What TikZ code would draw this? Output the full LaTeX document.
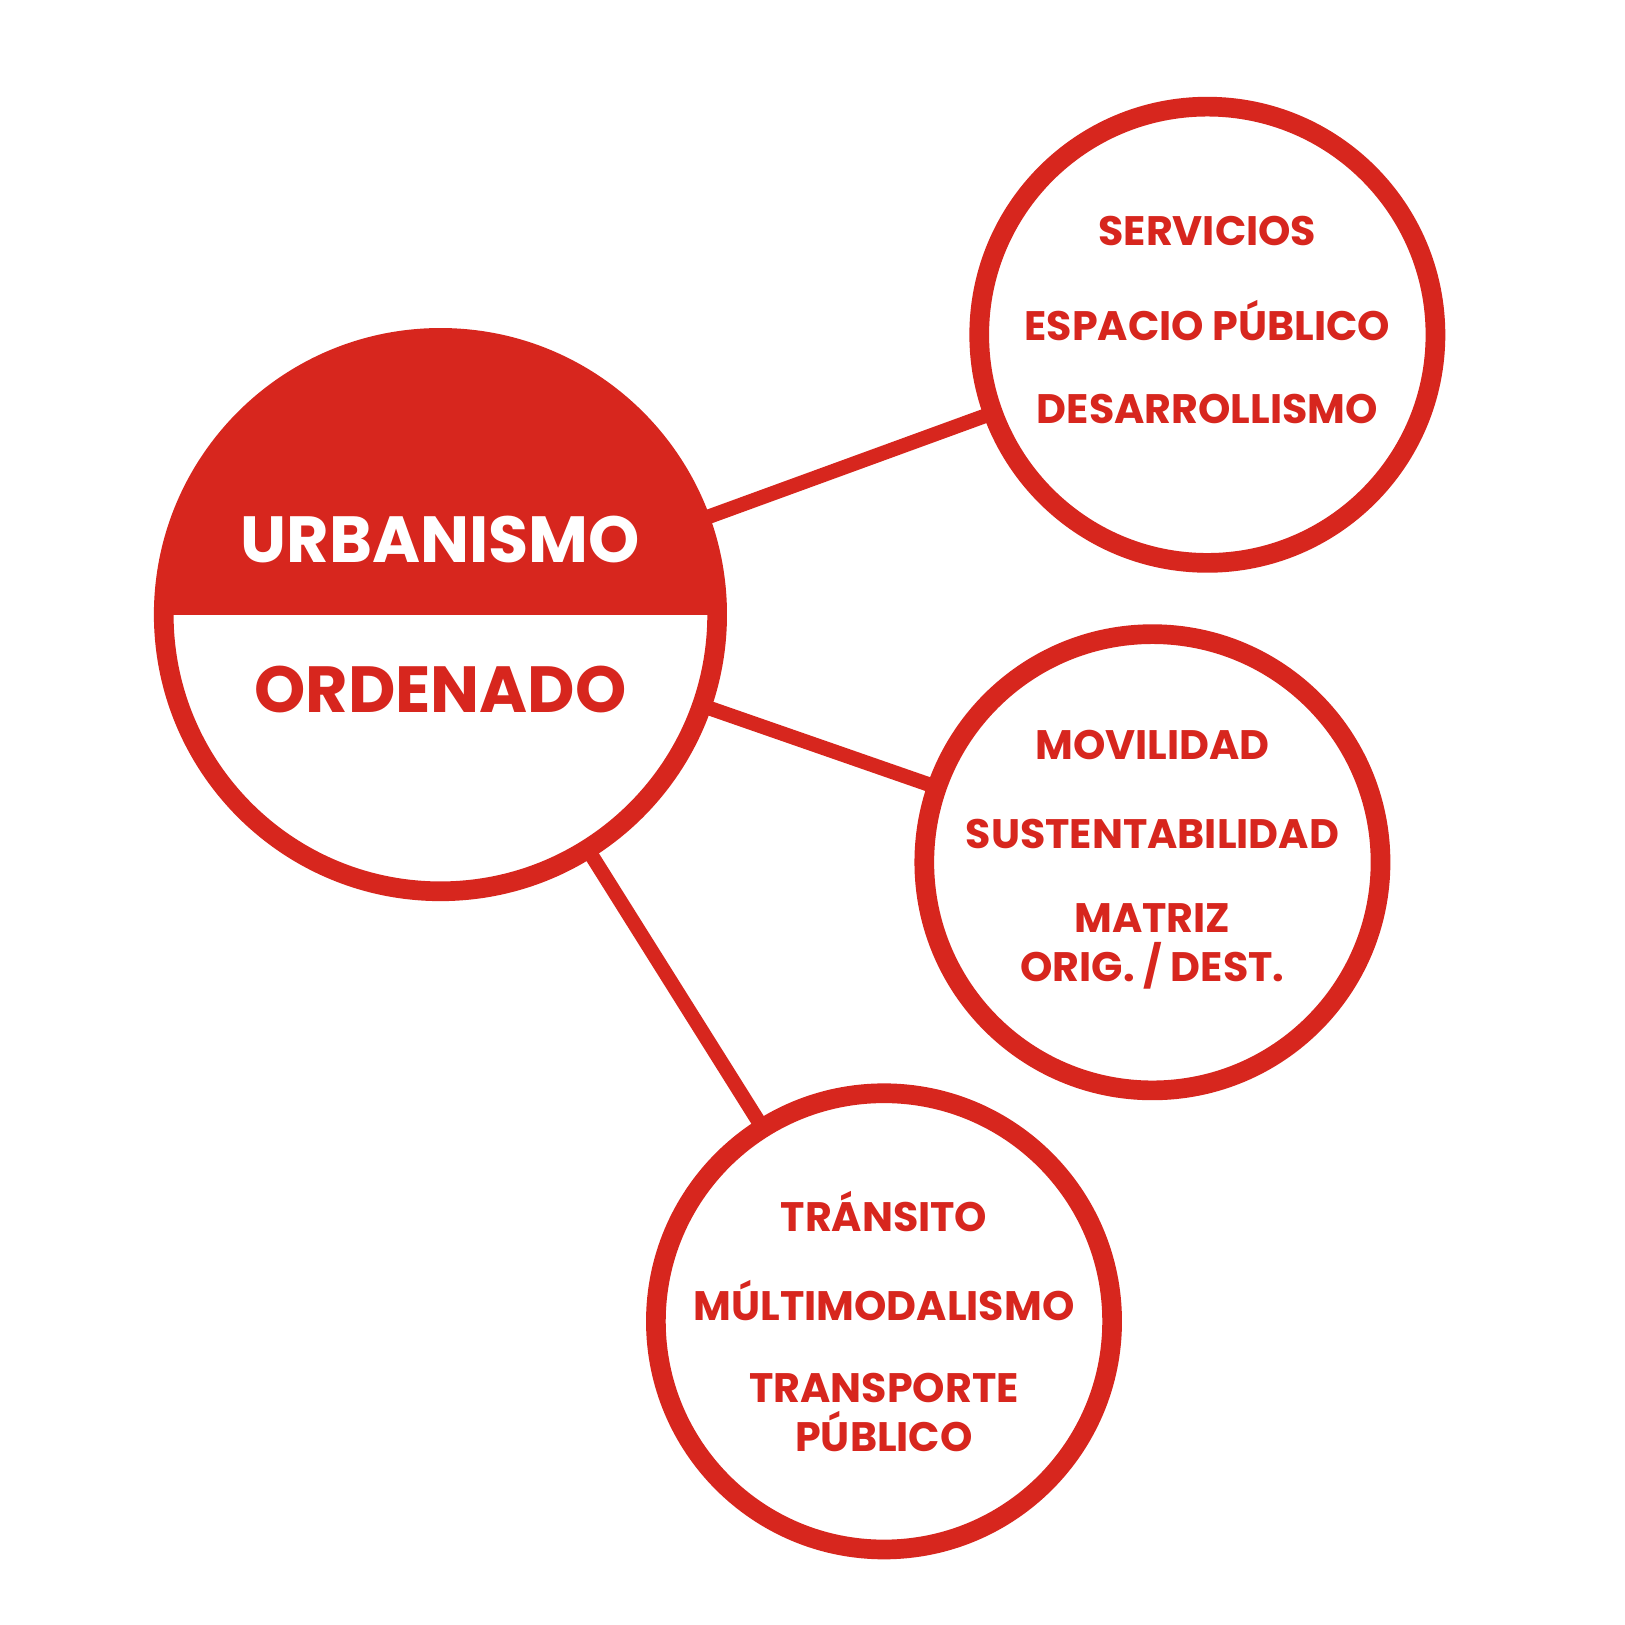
\documentclass[tikz,border=0pt]{standalone}
\usepackage{fontspec}
\setmainfont{Poppins}[BoldFont={* Bold}]
\definecolor{ured}{HTML}{D7261E}
\begin{document}
\begin{tikzpicture}[x=0.01cm,y=-0.01cm,
  ring/.style={circle,draw=ured,fill=white,line width=5.4pt,minimum size=4.4cm,inner sep=0pt},
  link/.style={draw=ured,line width=4pt},
  lbl/.style={text=ured,font=\bfseries\fontsize{11.3}{13.5}\selectfont,align=center}]
\useasboundingbox (0,0) rectangle (1568,1568);
\fill[white] (0,0) rectangle (1568,1568);
\coordinate (mc) at (425,593);
\node[circle,minimum size=5.34cm,inner sep=0pt] (main) at (mc) {};
\draw[link] (mc) -- (1165,323);
\draw[link] (mc) -- (1112,832);
\draw[link] (mc) -- (853,1275);
\node[ring] (c1) at (1165,323) {};
\node[ring] (c2) at (1112,832) {};
\node[ring] (c3) at (853,1275) {};
\begin{scope}
\clip (mc) circle (267);
\fill[white] (mc) circle (267);
\fill[ured] (100,250) rectangle (750,593);
\end{scope}
\draw[ured,line width=5.4pt] (mc) circle (267);
\node[text=white,font=\bfseries\fontsize{17.9}{20}\selectfont] (t1) at (425,521) {URBANISMO};
\node[text=ured,font=\bfseries\fontsize{17.9}{20}\selectfont] (t2) at (425,665) {ORDENADO};
\node[lbl] (a1) at (1165,223) {SERVICIOS};
\node[lbl] (a2) at (1165,309) {ESPACIO PÚBLICO};
\node[lbl] (a3) at (1165,395) {DESARROLLISMO};
\node[lbl] (b1) at (1112,719) {MOVILIDAD};
\node[lbl] (b2) at (1112,805) {SUSTENTABILIDAD};
\node[lbl] (b3) at (1112,913) {MATRIZ\\ORIG. / DEST.};
\node[lbl] (d1) at (853,1169) {TRÁNSITO};
\node[lbl] (d2) at (853,1255) {MÚLTIMODALISMO};
\node[lbl] (d3) at (853,1363) {TRANSPORTE\\PÚBLICO};
\end{tikzpicture}
\end{document}
